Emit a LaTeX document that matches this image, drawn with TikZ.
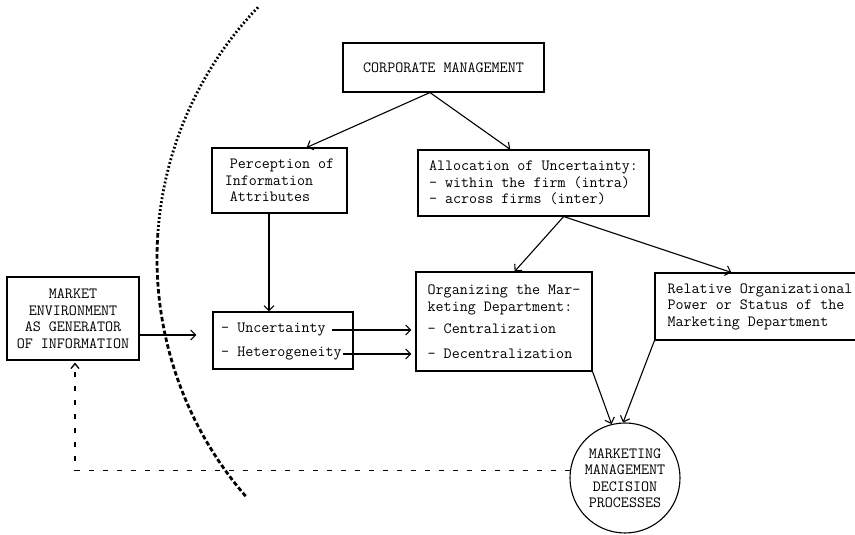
\documentclass[tikz,border=0pt]{standalone}
\usetikzlibrary{arrows.meta,calc}
\begin{document}
\begin{tikzpicture}[x=1pt,y=1pt,
  tt/.style={font=\ttfamily\fontsize{15.6pt}{16.5pt}\selectfont},
  box/.style={draw, line width=1.1pt, rectangle, inner sep=0pt, tt},
  arr/.style={line width=1.1pt, -{Straight Barb[length=5pt,width=10pt]}},
  dasharr/.style={line width=1.3pt, dash pattern=on 5pt off 9pt, -{Straight Barb[length=5pt,width=8pt]}},
  dotarc/.style={line width=2.8pt, dash pattern=on 1.8pt off 2.2pt},
  dasharc/.style={line width=2.8pt, dash pattern=on 4.5pt off 2.5pt}]
\useasboundingbox (0,0) rectangle (855,535);
\clip (0,0) rectangle (855,535);

% boundary arc
\draw[dotarc] (520,276.5) ++(136.2:363) arc[start angle=136.2,end angle=176,radius=363pt];
\draw[dasharc] (520,276.5) ++(176:363) arc[start angle=176,end angle=221.3,radius=363pt];

% nodes
\node[box, minimum width=201pt, minimum height=49pt] (cm) at (443.5,467.5) {CORPORATE MANAGEMENT};
\node[box, minimum width=135pt, minimum height=65pt, align=left] (perc) at (279.5,354.5)
  {\hspace*{5pt}Perception of\\Information\\\hspace*{5pt}Attributes};
\node[box, minimum width=231pt, minimum height=66pt, align=left] (alloc) at (533.5,352)
  {Allocation of Uncertainty:\\- within the firm (intra)\\- across firms (inter)};
\node[box, minimum width=132pt, minimum height=83pt, align=center] (mkt) at (73,216.5)
  {MARKET\\ENVIRONMENT\\AS GENERATOR\\OF INFORMATION};
\node[box, minimum width=140pt, minimum height=57pt] (ubox) at (283,194.5) {};
\node[tt, inner sep=0pt, anchor=west] (unct) at (221,205) {- Uncertainty};
\node[tt, inner sep=0pt, anchor=west] (hett) at (221,181) {- Heterogeneity};
\node[box, minimum width=176pt, minimum height=99pt, align=left] (org) at (504,213.5)
  {Organizing the Mar-\\keting Department:\\[6pt]- Centralization\\[8pt]- Decentralization};
\node[box, minimum width=210pt, minimum height=67pt, align=left] (rel) at (760,228.5)
  {Relative Organizational\\Power or Status of the\\Marketing Department};
\node[draw, circle, line width=1.1pt, minimum size=110pt, inner sep=0pt, align=center, tt] (mmdp) at (625,57)
  {MARKETING\\MANAGEMENT\\DECISION\\PROCESSES};

% connectors
\coordinate (cmo) at ($(cm.south west)!0.433!(cm.south east)$);
\coordinate (alo) at ($(alloc.south west)!0.63!(alloc.south east)$);
\draw[arr] (cmo) -- ($(perc.north west)!0.70!(perc.north east)$);
\draw[arr] (cmo) -- ($(alloc.north west)!0.40!(alloc.north east)$);
\draw[arr] (alo) -- ($(org.north west)!0.56!(org.north east)$);
\draw[arr] (alo) -- ($(rel.north west)+(77,0)$);
\draw[arr] ($(perc.south)+(-10.5,0)$) -- ($(ubox.north)+(-14,0)$);
\coordinate (mo) at ($(mkt.east)+(0,-16.5)$);
\draw[arr, shorten >=16pt] (mo) -- (mo -| ubox.west);
\draw[arr, shorten >=4pt] ([xshift=6pt]unct.east) -- (unct.east -| org.west);
\draw[arr, shorten >=4pt] ([xshift=1pt]hett.east) -- (hett.east -| org.west);
\draw[arr] (org.south east) -- (mmdp.104);
\draw[arr] (rel.south west) -- (mmdp.92);
\draw[dasharr, shorten >=2pt] (mmdp.172) -| ([xshift=2pt]mkt.south);
\end{tikzpicture}
\end{document}
